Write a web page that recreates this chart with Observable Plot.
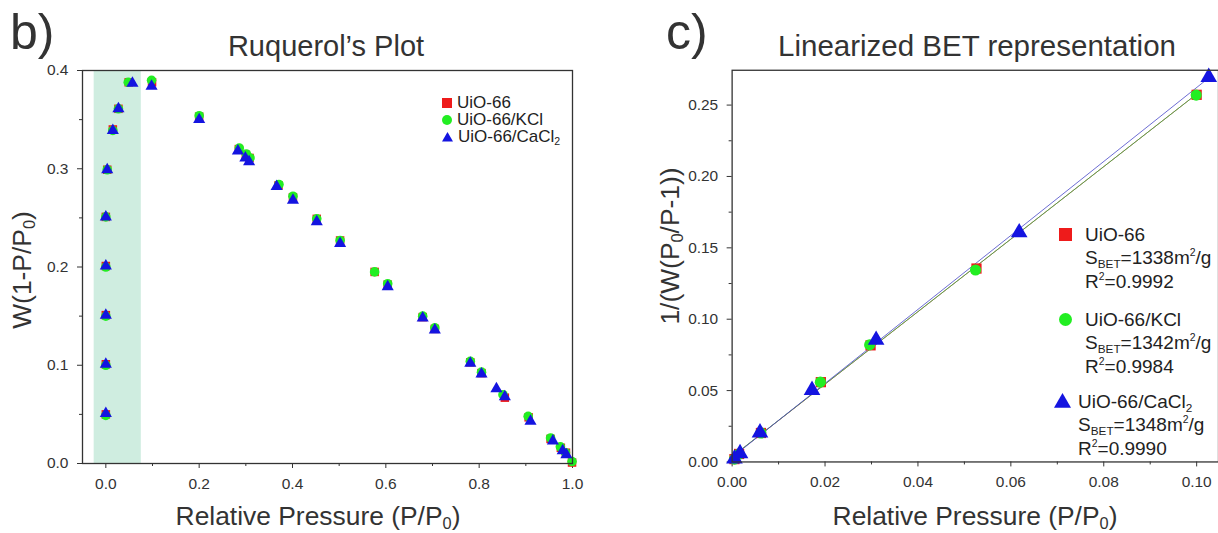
<!DOCTYPE html>
<html>
<head>
<meta charset="utf-8">
<script src="https://cdn.jsdelivr.net/npm/d3@7"></script>
<script src="https://cdn.jsdelivr.net/npm/@observablehq/plot@0.6"></script>
<style>
  html, body { margin: 0; padding: 0; background: #fff; overflow: hidden; }
  #page { position: relative; width: 1218px; height: 533px; overflow: hidden; font-family: "Liberation Sans", Arial, sans-serif; color: #333; }
  .abs { position: absolute; white-space: nowrap; }
  .c { transform: translate(-50%, -50%); }
  .rot { transform: translate(-50%, -50%) rotate(-90deg); }
  .sb { font-size: 62%; vertical-align: -0.3em; line-height: 0; }
  .sp { font-size: 55%; vertical-align: 0.75em; line-height: 0; }
  .leg { position: absolute; display: flex; align-items: center; white-space: nowrap; color: #222; }
  .leg svg { margin-right: 5px; }
  .line { position: absolute; white-space: nowrap; color: #222; }
  #left, #right { position: absolute; top: 0; }
  #left { left: 0; }
  #right { left: 620px; }
</style>
</head>
<body>
<div id="page">
  <div id="left"></div>
  <div id="right"></div>
</div>
<script>
// ---------------- Data ----------------
// Panel b) Rouquerol plot: W(1-P/P0) vs P/P0
const seriesNames = ["UiO-66", "UiO-66/KCl", "UiO-66/CaCl2"];
const seriesColors = ["#ee1b1b", "#22ee22", "#1414e0"];

const ruqX_UiO66 = [0.000, 0.000, 0.000, 0.000, 0.000, 0.003, 0.015, 0.027, 0.049, 0.099, 0.200, 0.285, 0.300, 0.308, 0.370, 0.401, 0.452, 0.502, 0.576, 0.604, 0.679, 0.705, 0.781, 0.805, 0.855, 0.906, 0.953, 0.975, 0.986, 0.999];
const ruqY_UiO66 = [0.050, 0.101, 0.151, 0.201, 0.251, 0.299, 0.340, 0.361, 0.388, 0.388, 0.353, 0.320, 0.314, 0.311, 0.283, 0.271, 0.249, 0.227, 0.195, 0.182, 0.149, 0.137, 0.103, 0.092, 0.067, 0.047, 0.025, 0.016, 0.011, 0.001];

const ruqX_KCl = [0.000, 0.000, 0.000, 0.000, 0.000, 0.003, 0.015, 0.027, 0.048, 0.098, 0.200, 0.286, 0.301, 0.309, 0.371, 0.401, 0.452, 0.502, 0.576, 0.604, 0.679, 0.705, 0.781, 0.805, 0.851, 0.905, 0.953, 0.974, 0.985, 0.999];
const ruqY_KCl = [0.049, 0.100, 0.150, 0.200, 0.251, 0.299, 0.339, 0.361, 0.388, 0.390, 0.354, 0.321, 0.315, 0.311, 0.284, 0.272, 0.249, 0.227, 0.195, 0.183, 0.150, 0.138, 0.104, 0.093, 0.070, 0.048, 0.026, 0.017, 0.011, 0.002];

const ruqX_CaCl2 = [0.000, 0.000, 0.000, 0.000, 0.000, 0.003, 0.015, 0.027, 0.057, 0.098, 0.200, 0.283, 0.299, 0.307, 0.366, 0.401, 0.452, 0.502, 0.604, 0.679, 0.705, 0.781, 0.805, 0.837, 0.855, 0.910, 0.958, 0.979, 0.987];
const ruqY_CaCl2 = [0.051, 0.101, 0.151, 0.201, 0.251, 0.299, 0.339, 0.361, 0.387, 0.384, 0.350, 0.318, 0.311, 0.307, 0.282, 0.268, 0.246, 0.224, 0.180, 0.148, 0.136, 0.102, 0.091, 0.076, 0.068, 0.043, 0.023, 0.013, 0.009];

const shadeBand = [-0.025, 0.076];   // highlighted P/P0 range

const ruqXDomain = [-0.05, 1.0];
const ruqYDomain = [0, 0.4];
const ruqXTicks = [0.0, 0.2, 0.4, 0.6, 0.8, 1.0];
const ruqXMinor = [0.1, 0.3, 0.5, 0.7, 0.9];
const ruqYTicks = [0.0, 0.1, 0.2, 0.3, 0.4];
const ruqYMinor = [0.05, 0.15, 0.25, 0.35];

// Panel c) Linearized BET: 1/(W(P0/P-1)) vs P/P0
const betX_UiO66 = [0.0005, 0.0015, 0.0062, 0.0191, 0.0298, 0.0526, 0.1000];
const betY_UiO66 = [0.0020, 0.0056, 0.0203, 0.0559, 0.0817, 0.1355, 0.2572];
const betX_KCl = [0.0005, 0.0015, 0.0062, 0.0190, 0.0296, 0.0524, 0.0999];
const betY_KCl = [0.0020, 0.0056, 0.0203, 0.0559, 0.0820, 0.1345, 0.2570];
const betX_CaCl2 = [0.0005, 0.0017, 0.0060, 0.0172, 0.0310, 0.0618, 0.1026];
const betY_CaCl2 = [0.0022, 0.0060, 0.0205, 0.0503, 0.0854, 0.1607, 0.2696];

const betXDomain = [0, 0.1047];
const betYDomain = [0, 0.2744];
const betXTicks = [0.00, 0.02, 0.04, 0.06, 0.08, 0.10];
const betXMinor = [0.01, 0.03, 0.05, 0.07, 0.09];
const betYTicks = [0.00, 0.05, 0.10, 0.15, 0.20, 0.25];
const betYMinor = [0.025, 0.075, 0.125, 0.175, 0.225];

const betSurface = ["1338", "1342", "1348"];
const betR2 = ["0.9992", "0.9984", "0.9990"];

// ---------------- Helpers ----------------
const zip = (xs, ys) => xs.map((x, i) => ({x, y: ys[i]}));
const symbols = ["square", "circle", "triangle"];

const axisStyle = {
  fontFamily: "'Liberation Sans', Arial, sans-serif",
  fontSize: "15.5px",
  color: "#333",
  background: "transparent",
  overflow: "visible"
};

// ---------------- Left plot ----------------
const ruqSets = [zip(ruqX_UiO66, ruqY_UiO66), zip(ruqX_KCl, ruqY_KCl), zip(ruqX_CaCl2, ruqY_CaCl2)];
const ruqSizes = [4.8, 4.8, 4.5];

const leftPlot = Plot.plot({
  width: 600, height: 533,
  marginLeft: 82, marginRight: 28, marginTop: 70, marginBottom: 70,
  x: {domain: ruqXDomain},
  y: {domain: ruqYDomain},
  style: axisStyle,
  marks: [
    Plot.rect([{x1: shadeBand[0], x2: shadeBand[1]}], {x1: "x1", x2: "x2", fill: "#cfede0"}),
    Plot.axisX(ruqXTicks, {tickSize: 5, tickPadding: 9, tickFormat: d3.format(".1f"), label: null}),
    Plot.axisX(ruqXMinor, {tickSize: 3, tickFormat: () => "", label: null}),
    Plot.axisY(ruqYTicks, {tickSize: 5, tickPadding: 9, tickFormat: d3.format(".1f"), label: null}),
    Plot.axisY(ruqYMinor, {tickSize: 3, tickFormat: () => "", label: null}),
    ...ruqSets.map((data, i) => Plot.dot(data, {x: "x", y: "y", symbol: symbols[i], r: ruqSizes[i], fill: seriesColors[i], stroke: "none"})),
    Plot.frame({stroke: "#333", strokeWidth: 1.3})
  ]
});
document.getElementById("left").appendChild(leftPlot);

// ---------------- Right plot ----------------
const betSets = [zip(betX_UiO66, betY_UiO66), zip(betX_KCl, betY_KCl), zip(betX_CaCl2, betY_CaCl2)];
const betSizes = [5.8, 5.6, 6.2];
const lineColors = ["#c04040", "#40b040", "#4848c8"];

const rightPlot = Plot.plot({
  width: 600, height: 533,
  marginLeft: 112, marginRight: 0, marginTop: 70, marginBottom: 70,
  x: {domain: betXDomain},
  y: {domain: betYDomain},
  style: axisStyle,
  marks: [
    Plot.axisX(betXTicks, {tickSize: 5, tickPadding: 9, tickFormat: d3.format(".2f"), label: null}),
    Plot.axisX(betXMinor, {tickSize: 3, tickFormat: () => "", label: null}),
    Plot.axisY(betYTicks, {tickSize: 5, tickPadding: 9, tickFormat: d3.format(".2f"), label: null}),
    Plot.axisY(betYMinor, {tickSize: 3, tickFormat: () => "", label: null}),
    ...betSets.map((data, i) => Plot.linearRegressionY(data, {x: "x", y: "y", stroke: lineColors[i], strokeWidth: 0.8, ci: 0})),
    ...betSets.map((data, i) => Plot.dot(data, {x: "x", y: "y", symbol: symbols[i], r: betSizes[i], fill: seriesColors[i], stroke: "none"})),
    Plot.frame({stroke: "#333", strokeWidth: 1.3})
  ]
});
document.getElementById("right").appendChild(rightPlot);

// ---------------- Text overlays ----------------
const page = document.getElementById("page");
function addDiv(html, cls, x, y, size, extra = "") {
  const d = document.createElement("div");
  d.className = cls;
  d.innerHTML = html;
  d.style.cssText = `left:${x}px;top:${y}px;font-size:${size}px;${extra}`;
  page.appendChild(d);
  return d;
}
const P0 = 'P<span class="sb">0</span>';

addDiv("b)", "abs", 10, 3, 50, "color:#333;");
addDiv("Ruquerol’s Plot", "abs c", 326, 46, 29, "color:#333;");
addDiv(`Relative Pressure (P/${P0})`, "abs c", 318, 516, 26.4, "color:#333;");
addDiv(`W(1-P/${P0})`, "abs rot", 22, 270, 26.4, "color:#333;");

addDiv("c)", "abs", 666, 3, 50, "color:#333;");
addDiv("Linearized BET representation", "abs c", 977, 46, 29.5, "color:#333;");
addDiv(`Relative Pressure (P/${P0})`, "abs c", 975, 516, 26.4, "color:#333;");
addDiv(`1/(W(${P0}/P-1))`, "abs rot", 670, 246, 26.4, "color:#333;");

// symbol drawings for legends
function symSvg(i, s) {
  const c = seriesColors[i];
  let shape;
  if (i === 0) shape = `<rect x="0" y="0" width="${s}" height="${s}" fill="${c}"/>`;
  else if (i === 1) shape = `<circle cx="${s/2}" cy="${s/2}" r="${s/2}" fill="${c}"/>`;
  else shape = `<polygon points="${s/2},0 ${s},${s*0.87} 0,${s*0.87}" fill="${c}"/>`;
  return `<svg width="${s}" height="${s}" viewBox="0 0 ${s} ${s}">${shape}</svg>`;
}
const nameHtml = n => n.replace("CaCl2", 'CaCl<span class="sb">2</span>');

// left legend
const leftLegY = [103, 120, 137];
seriesNames.forEach((n, i) => {
  addDiv(symSvg(i, i === 2 ? 11 : 10) + `<span>${nameHtml(n)}</span>`, "leg", 442, leftLegY[i] - 10, 17, "height:20px;");
});

// right legend
const rightLegY = [235, 320, 402];
const rightLegX = [1059, 1059, 1054];
const rightTextX = [1085, 1085, 1078];
seriesNames.forEach((n, i) => {
  addDiv(symSvg(i, i === 2 ? 17 : 13), "abs", rightLegX[i], rightLegY[i] - (i === 2 ? 9 : 7), 19, "line-height:0;");
  addDiv(nameHtml(n), "line", rightTextX[i], rightLegY[i] - 12, 19, "line-height:24px;");
  addDiv(`S<span class="sb">BET</span>=${betSurface[i]}m<span class="sp">2</span>/g`, "line", rightTextX[i], rightLegY[i] + 11, 19, "line-height:24px;");
  addDiv(`R<span class="sp">2</span>=${betR2[i]}`, "line", rightTextX[i], rightLegY[i] + 35, 19, "line-height:24px;");
});
</script>
</body>
</html>
